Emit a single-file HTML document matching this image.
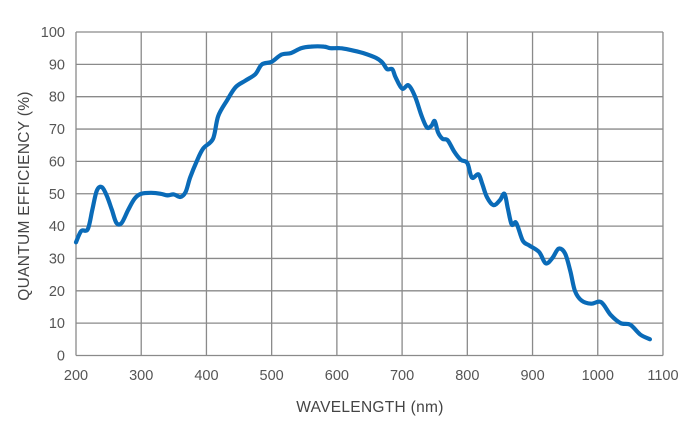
<!DOCTYPE html>
<html><head><meta charset="utf-8"><style>
html,body{margin:0;padding:0;background:#fff;}
svg{display:block;font-family:"Liberation Sans",sans-serif;}
</style></head><body>
<svg id="s" width="690" height="428" viewBox="0 0 690 428" xmlns="http://www.w3.org/2000/svg">
<g id="grid" stroke="#8a8a8a" stroke-width="1.3" fill="none"></g>
<g id="lab" fill="#555" font-size="14.5"></g>
<text x="370" y="412" text-anchor="middle" fill="#444" font-size="15.5" letter-spacing="0.3">WAVELENGTH (nm)</text>
<text transform="translate(29,196) rotate(-90)" text-anchor="middle" fill="#444" font-size="15.5" letter-spacing="0.3">QUANTUM EFFICIENCY (%)</text>
<path id="curve" fill="none" stroke="#0a6bb8" stroke-width="4.2" stroke-linejoin="round" stroke-linecap="round"/>
</svg>
<script>
var X=function(n){return 76+(n-200)*0.6522;},Y=function(q){return 355.5-q*3.235;};
var g=document.getElementById('grid'),l=document.getElementById('lab'),ns='http://www.w3.org/2000/svg';
function el(p,t,a){var e=document.createElementNS(ns,t);for(var k in a)e.setAttribute(k,a[k]);p.appendChild(e);return e;}
for(var n=200;n<=1100;n+=100){el(g,'line',{x1:X(n),x2:X(n),y1:Y(100),y2:Y(0)});var t=el(l,'text',{x:X(n),y:380,'text-anchor':'middle'});t.textContent=n;}
for(var q=0;q<=100;q+=10){el(g,'line',{x1:X(200),x2:X(1100),y1:Y(q),y2:Y(q)});var t=el(l,'text',{x:65,y:Y(q)+5,'text-anchor':'end'});t.textContent=q;}
var d=[[200,35],[208,38.5],[218,39],[225,45],[232,51],[240,52],[248,49],[255,45],[262,41],[270,41],[280,45],[290,48.5],[300,50],[315,50.3],[330,50],[340,49.5],[350,49.8],[360,49],[368,50.5],[375,55],[385,60],[395,64],[410,67],[418,74],[432,79],[445,83],[460,85],[475,87],[485,90],[500,90.8],[515,93],[530,93.5],[545,95],[560,95.5],[580,95.5],[590,95],[605,95],[620,94.5],[640,93.5],[660,92],[670,90.5],[677,88.5],[685,88.5],[690,86],[700,82.5],[710,83.5],[720,80],[730,74],[738,70.5],[745,71],[750,72.5],[755,69],[762,67],[770,66.5],[780,63],[790,60.5],[800,59.5],[807,55],[817,56],[823,53],[830,49],[840,46.5],[850,48],[857,50],[862,45.5],[868,40.5],[875,41],[885,35.5],[895,34],[910,32],[920,28.5],[930,30],[940,33],[950,31.5],[958,26],[965,20],[975,17],[990,16],[1005,16.5],[1020,12.5],[1035,10],[1050,9.5],[1065,6.5],[1080,5]];
var p=d.map(function(a){return [X(a[0]),Y(a[1])];});
var s='M'+p[0][0].toFixed(1)+','+p[0][1].toFixed(1);
for(var i=0;i<p.length-1;i++){var p0=p[i>0?i-1:0],p1=p[i],p2=p[i+1],p3=p[i+2<p.length?i+2:i+1];
var c1=[p1[0]+(p2[0]-p0[0])/6,p1[1]+(p2[1]-p0[1])/6],c2=[p2[0]-(p3[0]-p1[0])/6,p2[1]-(p3[1]-p1[1])/6];
s+=' C'+c1[0].toFixed(1)+','+c1[1].toFixed(1)+' '+c2[0].toFixed(1)+','+c2[1].toFixed(1)+' '+p2[0].toFixed(1)+','+p2[1].toFixed(1);}
document.getElementById('curve').setAttribute('d',s);
</script>
</body></html>
